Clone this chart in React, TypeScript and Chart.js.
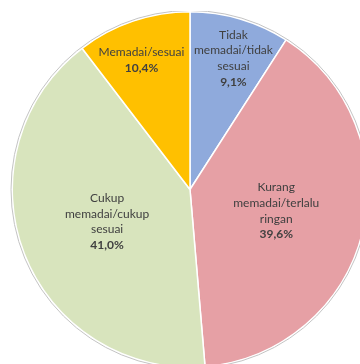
import React, { useEffect, useRef } from "react";
import { Chart, registerables } from "chart.js";

Chart.register(...registerables);

const categories: string[][] = [
  ["Tidak", "memadai/tidak", "sesuai"],
  ["Kurang", "memadai/terlalu", "ringan"],
  ["Cukup", "memadai/cukup", "sesuai"],
  ["Memadai/sesuai"],
];
const values: number[] = [9.1, 39.6, 41.0, 10.4];
const percentLabels: string[] = ["9,1%", "39,6%", "41,0%", "10,4%"];
const colors: string[] = ["#8FAADC", "#E6A0A5", "#D8E4BD", "#FFC000"];

const BORDER = 1.5;
const FONT_FAMILY = 'Lato, "Open Sans", sans-serif';

const labelPlugin = {
  id: "pieLabels",
  afterDatasetsDraw(chart: any) {
    const ctx = chart.ctx;
    const meta = chart.getDatasetMeta(0);
    const total = values.reduce((a, b) => a + b, 0);
    const first = meta.data[0];
    ctx.save();
    ctx.beginPath();
    ctx.arc(first.x, first.y, first.outerRadius + BORDER / 2 + 0.5, 0, Math.PI * 2);
    ctx.strokeStyle = "#C4C4C4";
    ctx.lineWidth = 1;
    ctx.stroke();
    ctx.restore();

    ctx.save();
    ctx.font = `12px ${FONT_FAMILY}`;
    const w = ctx.measureText("memadai/tidak").width;
    ctx.restore();
    const size = Math.max(9, Math.min(16, (12 * 79) / w));

    const n = meta.data.length;
    meta.data.forEach((arc: any, i: number) => {
      const frac = values[i] / total;
      const sweep = arc.endAngle - arc.startAngle;
      let mid = (arc.startAngle + arc.endAngle) / 2;
      const small = frac < 0.2;
      if (small) {
        // move small-slice labels slightly away from the 12 o'clock edge
        if (i === 0) mid += sweep * 0.06;
        if (i === n - 1) mid -= sweep * 0.05;
      }
      const rf = small ? 0.777 : 0.5;
      const r = arc.outerRadius * rf;
      const cx = arc.x + Math.cos(mid) * r;
      const cy = arc.y + Math.sin(mid) * r;
      const lines = [...categories[i], percentLabels[i]];
      const lh = 15.7;
      const startY = cy - ((lines.length - 1) * lh) / 2;
      ctx.save();
      ctx.fillStyle = "#404040";
      ctx.textAlign = "center";
      ctx.textBaseline = "middle";
      lines.forEach((ln, j) => {
        const bold = j === lines.length - 1;
        ctx.font = `${bold ? "bold " : ""}${size.toFixed(2)}px ${FONT_FAMILY}`;
        ctx.fillText(ln, cx, startY + j * lh);
      });
      ctx.restore();
    });
  },
};

export default function App() {
  const ref = useRef<HTMLCanvasElement | null>(null);
  useEffect(() => {
    if (!ref.current) return;
    const chart = new Chart(ref.current, {
      type: "pie",
      data: {
        labels: categories.map((c) => c.join(" ")),
        datasets: [
          {
            data: values,
            backgroundColor: colors,
            borderColor: "#FFFFFF",
            borderWidth: BORDER,
          },
        ],
      },
      options: {
        animation: false,
        responsive: false,
        maintainAspectRatio: false,
        layout: { padding: 0 },
        plugins: {
          legend: { display: false },
          tooltip: { enabled: false },
        },
      },
      plugins: [labelPlugin],
    });
    return () => chart.destroy();
  }, []);
  return (
    <div
      style={{
        position: "fixed",
        left: 0,
        top: 0,
        width: 360,
        height: 364,
        overflow: "hidden",
        background: "#fff",
      }}
    >
      <div style={{ position: "absolute", left: 0, top: 11 }}>
        <canvas ref={ref} width={380} height={357} style={{ display: "block" }} />
      </div>
    </div>
  );
}
